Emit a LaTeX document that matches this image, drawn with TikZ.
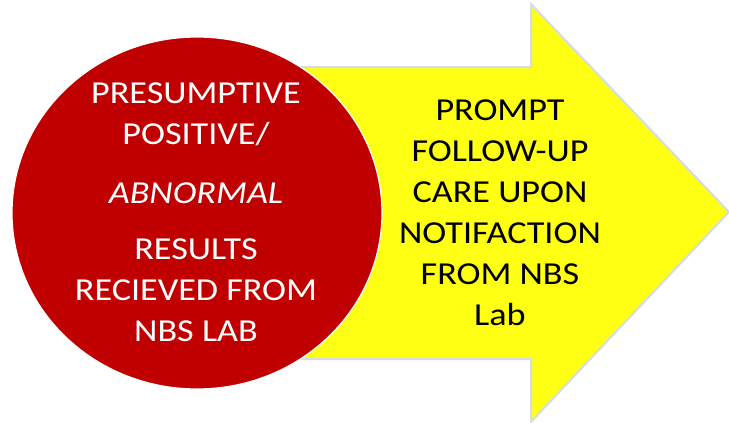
\documentclass[tikz,border=0pt]{standalone}
\usepackage{fontspec}
\setmainfont{Carlito}
\definecolor{circred}{HTML}{C00000}
\definecolor{arrowyellow}{HTML}{FFFF14}
\definecolor{arrowedge}{HTML}{D5DCE4}
\begin{document}
\begin{tikzpicture}[x=1pt,y=-1pt,
  arrowshape/.style={fill=arrowyellow,draw=arrowedge,line width=2pt,line join=miter},
  circshape/.style={fill=circred,draw=white,line width=1.2pt},
  bigtext/.style={align=center,font=\fontsize{32}{41}\selectfont,inner sep=0pt,xscale=1.13,transform shape}]
\useasboundingbox (0,0) rectangle (729,423);
\draw[arrowshape] (200,67) -- (531,67) -- (531,4) -- (729,212) -- (531,422) -- (531,359) -- (200,359) -- cycle;
\draw[circshape] (197,213) ellipse [x radius=185, y radius=176];
\node[bigtext,text=white] (left) at (196,212) {PRESUMPTIVE\\POSITIVE/\\[18pt]\textit{ABNORMAL}\\[15pt]RESULTS\\RECIEVED FROM\\NBS LAB};
\node[bigtext,text=black] (right) at (500,213) {PROMPT\\FOLLOW-UP\\CARE UPON\\NOTIFACTION\\FROM NBS\\Lab};
\end{tikzpicture}
\end{document}
